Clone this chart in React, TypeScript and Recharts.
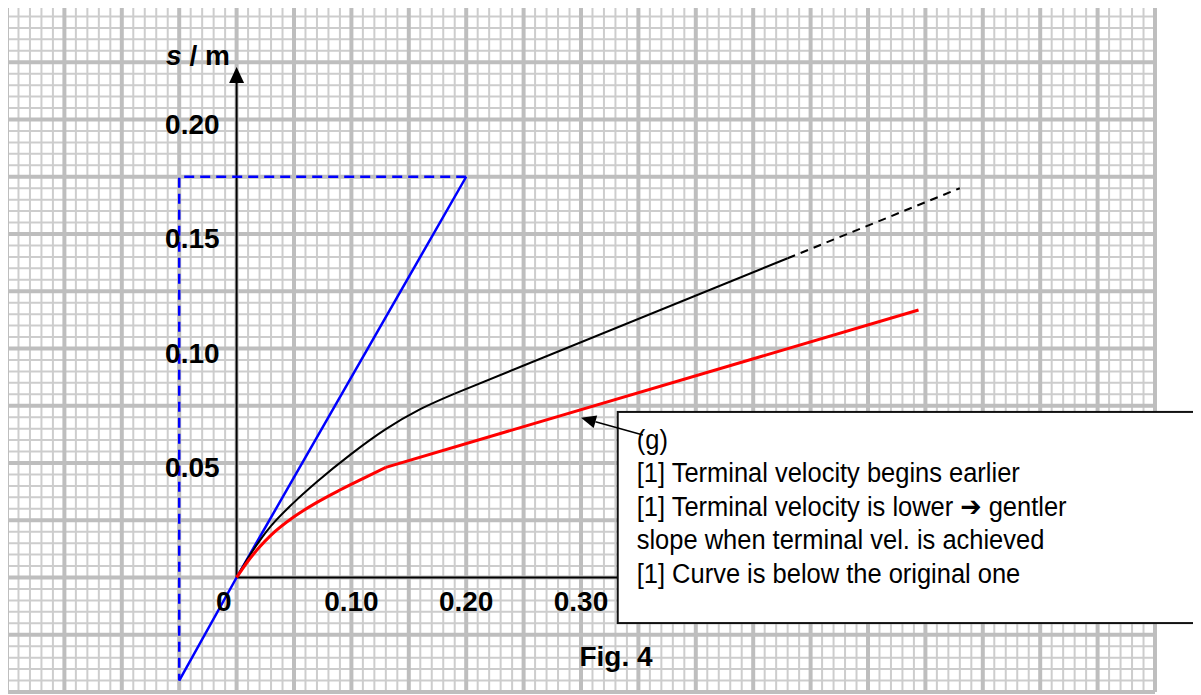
import {
  LineChart,
  Line,
  XAxis,
  YAxis,
  CartesianGrid,
  ReferenceLine,
  ReferenceDot,
  ReferenceArea,
} from 'recharts'

const FONT = '"Liberation Sans", Arial, sans-serif'

// graph paper: a big square is 0.05 across and 0.025 up, five small ones inside
const X_DOMAIN = [-0.2, 0.8]
const Y_DOMAIN = [-0.05, 0.25]

const steps = (from: number, to: number, step: number) => {
  const out: number[] = []
  const n = Math.round((to - from) / step)
  for (let i = 0; i <= n; i++) out.push(Math.round((from + i * step) * 10000) / 10000)
  return out
}
const MINOR_X = steps(-0.2, 0.8, 0.01)
const MAJOR_X = steps(-0.2, 0.8, 0.05)
const MINOR_Y = steps(-0.05, 0.25, 0.005)
const MAJOR_Y = steps(-0.05, 0.25, 0.025)

const X_TICKS = [0, 0.1, 0.2, 0.3]
const X_LABELS = ['0', '0.10', '0.20', '0.30']
const Y_TICKS = [0.05, 0.1, 0.15, 0.2]
const Y_LABELS = ['0.05', '0.10', '0.15', '0.20']

// blue tangent at the start and its dashed construction lines
const tangent = [
  { t: -0.05, s: -0.045 },
  { t: 0, s: 0 },
  { t: 0.2, s: 0.175 },
]
const tangentGuide = [
  { t: 0.2, s: 0.175 },
  { t: -0.05, s: 0.175 },
  { t: -0.05, s: -0.045 },
]

// original curve (black): bend, straight part, dashed continuation
const originalBend = [
  { t: 0, s: 0 },
  { t: 0.01, s: 0.0085 },
  { t: 0.02, s: 0.016 },
  { t: 0.03, s: 0.0225 },
  { t: 0.05, s: 0.0328 },
  { t: 0.07, s: 0.0418 },
  { t: 0.1, s: 0.054 },
  { t: 0.13, s: 0.0648 },
  { t: 0.16, s: 0.0735 },
  { t: 0.19, s: 0.0803 },
]
const originalLine = [
  { t: 0.19, s: 0.0803 },
  { t: 0.48, s: 0.1394 },
]
const originalExt = [
  { t: 0.48, s: 0.1394 },
  { t: 0.63, s: 0.17 },
]

// answer curve (red): bend then straight part
const modifiedBend = [
  { t: 0, s: 0 },
  { t: 0.01, s: 0.0072 },
  { t: 0.02, s: 0.0133 },
  { t: 0.03, s: 0.0185 },
  { t: 0.05, s: 0.0265 },
  { t: 0.07, s: 0.0328 },
  { t: 0.09, s: 0.0382 },
  { t: 0.11, s: 0.0432 },
  { t: 0.13, s: 0.0481 },
]
const modifiedLine = [
  { t: 0.13, s: 0.0481 },
  { t: 0.594, s: 0.1168 },
]

const NOTE_LINES = [
  '(g)',
  '[1] Terminal velocity begins earlier',
  '[1] Terminal velocity is lower \u2794 gentler',
  'slope when terminal vel. is achieved',
  '[1] Curve is below the original one',
]
const NOTE_BOX = { x1: 0.332, x2: 0.8375, y1: -0.0199, y2: 0.0723 }
const NOTE_ARROW = [
  { x: 0.354, y: 0.0622 },
  { x: 0.3, y: 0.0698 },
]
const Y_AXIS_TOP = 0.2229

// grid positions for the small squares, taken from the plot area
const minorVertical = ({ xAxis, offset }: any) =>
  MINOR_X.map((v) =>
    xAxis && typeof xAxis.scale === 'function'
      ? xAxis.scale(v)
      : offset.left + ((v - X_DOMAIN[0]) / (X_DOMAIN[1] - X_DOMAIN[0])) * offset.width,
  )
const minorHorizontal = ({ yAxis, offset }: any) =>
  MINOR_Y.map((v) =>
    yAxis && typeof yAxis.scale === 'function'
      ? yAxis.scale(v)
      : offset.top + ((Y_DOMAIN[1] - v) / (Y_DOMAIN[1] - Y_DOMAIN[0])) * offset.height,
  )

function arrowHead(x1: number, y1: number, x2: number, y2: number, len: number, half: number) {
  const a = Math.atan2(y2 - y1, x2 - x1)
  const bx = x2 - len * Math.cos(a)
  const by = y2 - len * Math.sin(a)
  const nx = -Math.sin(a) * half
  const ny = Math.cos(a) * half
  return { bx, by, points: `${x2},${y2} ${bx + nx},${by + ny} ${bx - nx},${by - ny}` }
}

const yAxisShape = (p: any) => {
  const { x1, y1, x2, y2 } = p
  const h = arrowHead(x1, y1, x2, y2, 16, 7.5)
  return (
    <g>
      <line x1={x1} y1={y1} x2={h.bx} y2={h.by} stroke="#000" strokeWidth={2} />
      <polygon points={h.points} fill="#000" />
      <text x={x2 - 70.5} y={y2 - 2} fontFamily={FONT} fontSize={28} fontWeight="bold" fill="#000">
        <tspan fontStyle="italic">s</tspan> / m
      </text>
    </g>
  )
}

const noteArrowShape = (p: any) => {
  const { x1, y1, x2, y2 } = p
  const h = arrowHead(x1, y1, x2, y2, 15, 6.5)
  return (
    <g>
      <line x1={x1} y1={y1} x2={h.bx} y2={h.by} stroke="#000" strokeWidth={1.5} />
      <polygon points={h.points} fill="#000" />
    </g>
  )
}

const noteShape = (p: any) => {
  const { x, y, width, height } = p
  return (
    <g>
      <rect x={x} y={y} width={width} height={height} fill="#fff" stroke="#111" strokeWidth={2} />
      <g transform={`translate(${x + 19}, ${y + 37}) scale(0.91, 1)`}>
        {NOTE_LINES.map((line, i) => (
          <text
            key={i}
            x={0}
            y={i * 33.5}
            fontFamily={`${FONT}, "DejaVu Sans"`}
            fontSize={28}
            fill="#000"
          >
            {line}
          </text>
        ))}
      </g>
    </g>
  )
}

const seriesProps = { dataKey: 's', dot: false, activeDot: false, isAnimationActive: false } as const

export default function App() {
  return (
    <div style={{ position: 'relative', width: 1201, height: 695, margin: '-8px 0 0 -8px', background: '#fff' }}>
      <LineChart width={1201} height={695} margin={{ top: 5, right: 46, bottom: 3, left: 7 }}>
        <XAxis dataKey="t" type="number" domain={X_DOMAIN} ticks={MAJOR_X} interval={0} hide allowDataOverflow />
        <YAxis type="number" domain={Y_DOMAIN} ticks={MAJOR_Y} interval={0} hide allowDataOverflow />
        <CartesianGrid
          stroke="#cdcdcd"
          strokeWidth={2}
          verticalCoordinatesGenerator={minorVertical}
          horizontalCoordinatesGenerator={minorHorizontal}
        />
        <CartesianGrid stroke="#bebebe" strokeWidth={4} />

        <ReferenceLine
          segment={[{ x: 0, y: 0 }, { x: 0.7, y: 0 }]}
          stroke="#000"
          strokeWidth={2}
        />
        <ReferenceLine
          segment={[{ x: 0, y: 0 }, { x: 0, y: Y_AXIS_TOP }]}
          shape={yAxisShape}
        />

        <Line data={tangentGuide} type="linear" stroke="#0000ff" strokeWidth={2.5}
          strokeDasharray="10 6" {...seriesProps} />
        <Line data={tangent} type="linear" stroke="#0000ff" strokeWidth={2.5} {...seriesProps} />
        <Line data={originalBend} type="monotone" stroke="#000" strokeWidth={2} {...seriesProps} />
        <Line data={originalLine} type="linear" stroke="#000" strokeWidth={2} {...seriesProps} />
        <Line data={originalExt} type="linear" stroke="#000" strokeWidth={2}
          strokeDasharray="8 6" {...seriesProps} />
        <Line data={modifiedBend} type="monotone" stroke="#ff0000" strokeWidth={3} {...seriesProps} />
        <Line data={modifiedLine} type="linear" stroke="#ff0000" strokeWidth={3} {...seriesProps} />

        {X_TICKS.map((v, i) => (
          <ReferenceDot
            key={`x${i}`}
            x={v}
            y={0}
            shape={(p: any) => (
              <text
                x={v === 0 ? p.cx - 5 : p.cx}
                y={p.cy + 33}
                textAnchor={v === 0 ? 'end' : 'middle'}
                fontFamily={FONT}
                fontSize={28}
                fontWeight="bold"
                fill="#000"
              >
                {X_LABELS[i]}
              </text>
            )}
          />
        ))}
        {Y_TICKS.map((v, i) => (
          <ReferenceDot
            key={`y${i}`}
            x={0}
            y={v}
            shape={(p: any) => (
              <text
                x={p.cx - 17}
                y={p.cy + 14}
                textAnchor="end"
                fontFamily={FONT}
                fontSize={28}
                fontWeight="bold"
                fill="#000"
              >
                {Y_LABELS[i]}
              </text>
            )}
          />
        ))}

        <ReferenceArea
          x1={NOTE_BOX.x1}
          x2={NOTE_BOX.x2}
          y1={NOTE_BOX.y1}
          y2={NOTE_BOX.y2}
          ifOverflow="visible"
          shape={noteShape}
          zIndex={1500}
        />
        <ReferenceLine segment={NOTE_ARROW} shape={noteArrowShape} zIndex={1600} />
      </LineChart>
      <svg width={1201} height={695} style={{ position: 'absolute', left: 0, top: 0, pointerEvents: 'none' }}>
        <text x={616} y={666} textAnchor="middle" fontFamily={FONT} fontSize={28} fontWeight="bold" fill="#000">
          Fig. 4
        </text>
      </svg>
    </div>
  )
}
